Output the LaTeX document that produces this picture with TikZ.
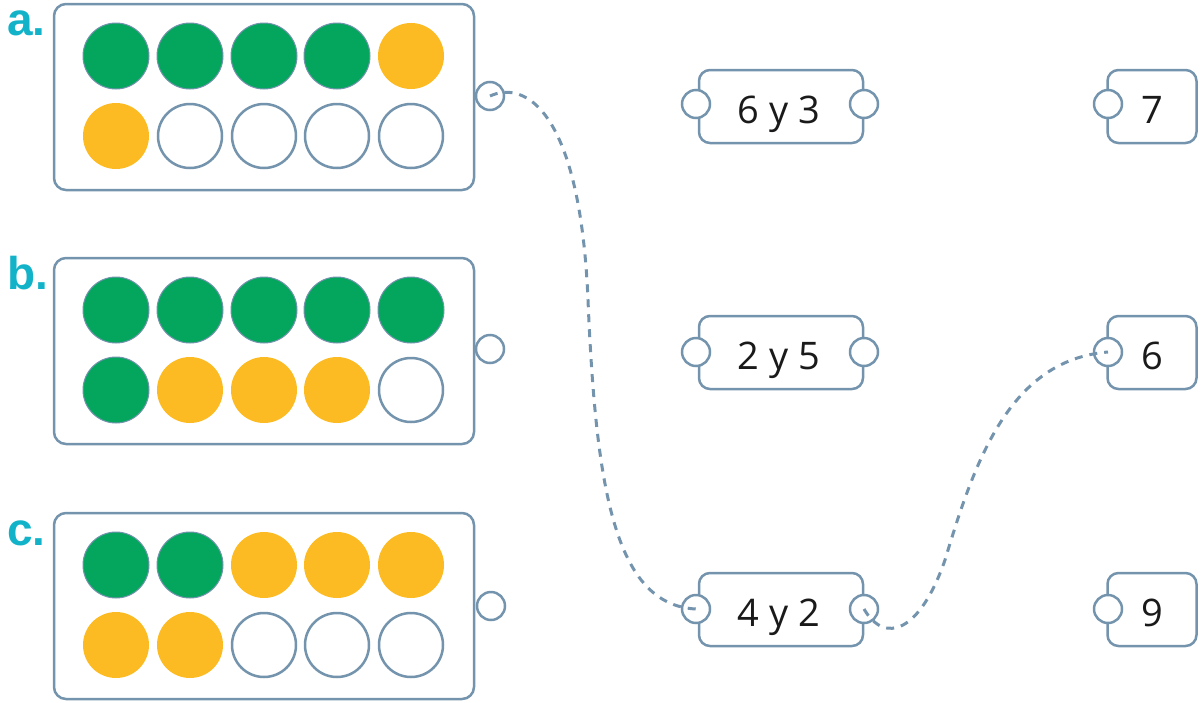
\documentclass[tikz,border=0pt]{standalone}
\usepackage{fontspec}
\setmainfont{Open Sans}
\newfontfamily\labfont{Liberation Sans}
\definecolor{edge}{HTML}{7494AE}
\definecolor{gr}{HTML}{04A65D}
\definecolor{yl}{HTML}{FCBB22}
\definecolor{lab}{HTML}{12B3C9}
\definecolor{txt}{HTML}{1A1A1A}
\tikzset{
  tray/.style={draw=edge, line width=2.5pt, rounded corners=12pt, fill=white, inner sep=0pt},
  card/.style={draw=edge, line width=2.5pt, rounded corners=11pt, fill=white, inner sep=0pt},
  gdot/.style={circle, fill=gr, draw=edge, line width=1pt, minimum size=66pt, inner sep=0pt},
  ydot/.style={circle, fill=yl, minimum size=66pt, inner sep=0pt},
  edot/.style={circle, fill=white, draw=edge, line width=2.5pt, minimum size=64pt, inner sep=0pt},
  port/.style={circle, fill=white, draw=edge, line width=2.5pt, minimum size=28pt, inner sep=0pt},
  conn/.style={draw=edge, line width=3pt, dash pattern=on 8pt off 7pt},
  letter/.style={text=lab, font=\labfont\bfseries\fontsize{46}{46}\selectfont, anchor=base west, inner sep=0pt},
  num/.style={text=txt, font=\fontsize{38}{40}\selectfont, anchor=base, inner sep=0pt}
}
\begin{document}
\begin{tikzpicture}[x=1pt,y=-1pt]
\useasboundingbox (0,0) rectangle (1203,702);
% labels
\node[letter] (la) at (7,35) {a.};
\node[letter] (lb) at (7,289) {b.};
\node[letter] (lc) at (7,545) {c.};
% trays
\node[tray, minimum width=420pt, minimum height=186pt] (ta) at (264,97) {};
\node[tray, minimum width=420pt, minimum height=186pt] (tb) at (264,351) {};
\node[tray, minimum width=420pt, minimum height=186pt] (tc) at (264,606) {};
% tray a
\node[gdot] (a1) at (116,56) {};
\node[gdot] (a2) at (190,56) {};
\node[gdot] (a3) at (264,56) {};
\node[gdot] (a4) at (337,56) {};
\node[ydot] (a5) at (411,56) {};
\node[ydot] (a6) at (116,136) {};
\node[edot] (a7) at (190,136) {};
\node[edot] (a8) at (264,136) {};
\node[edot] (a9) at (337,136) {};
\node[edot] (a10) at (411,136) {};
% tray b
\node[gdot] (b1) at (116,310) {};
\node[gdot] (b2) at (190,310) {};
\node[gdot] (b3) at (264,310) {};
\node[gdot] (b4) at (337,310) {};
\node[gdot] (b5) at (411,310) {};
\node[gdot] (b6) at (116,390) {};
\node[ydot] (b7) at (190,390) {};
\node[ydot] (b8) at (264,390) {};
\node[ydot] (b9) at (337,390) {};
\node[edot] (b10) at (411,390) {};
% tray c
\node[gdot] (c1) at (116,565) {};
\node[gdot] (c2) at (190,565) {};
\node[ydot] (c3) at (264,565) {};
\node[ydot] (c4) at (337,565) {};
\node[ydot] (c5) at (411,565) {};
\node[ydot] (c6) at (116,645) {};
\node[ydot] (c7) at (190,645) {};
\node[edot] (c8) at (264,645) {};
\node[edot] (c9) at (337,645) {};
\node[edot] (c10) at (411,645) {};
% tray ports
\node[port] (pa) at (490,96) {};
\node[port] (pb) at (490,349) {};
\node[port] (pc) at (491,606) {};
% middle cards
\node[card, minimum width=164pt, minimum height=73pt] (m1) at (781,106.5) {};
\node[card, minimum width=164pt, minimum height=73pt] (m2) at (781,352.5) {};
\node[card, minimum width=164pt, minimum height=73pt] (m3) at (781,609.5) {};
\node[num] (t1) at (779,123) {6 y 3};
\node[num] (t2) at (779,369) {2 y 5};
\node[num] (t3) at (779,626) {4 y 2};
\node[port] (m1l) at (696,104) {};
\node[port] (m1r) at (864,104) {};
\node[port] (m2l) at (696,352) {};
\node[port] (m2r) at (864,352) {};
\node[port] (m3l) at (696,609) {};
\node[port] (m3r) at (864,609) {};
% right cards
\node[card, minimum width=89pt, minimum height=73pt] (r1) at (1152,106.5) {};
\node[card, minimum width=89pt, minimum height=73pt] (r2) at (1152,352.5) {};
\node[card, minimum width=89pt, minimum height=73pt] (r3) at (1152,609.5) {};
\node[num] (u1) at (1152,123) {7};
\node[num] (u2) at (1152,369) {6};
\node[num] (u3) at (1152,626) {9};
\node[port] (r1l) at (1108,104) {};
\node[port] (r2l) at (1108,352) {};
\node[port] (r3l) at (1108,609) {};
% connectors
\draw[conn] (pa.center) .. controls (525,80) and (580,110) .. (588,300)
  .. controls (596,490) and (615,605) .. (m3l.center);
\draw[conn] (m3r.center) .. controls (885,645) and (920,632) .. (945,560)
  .. controls (975,460) and (1010,360) .. (r2l.center);
\end{tikzpicture}
\end{document}
